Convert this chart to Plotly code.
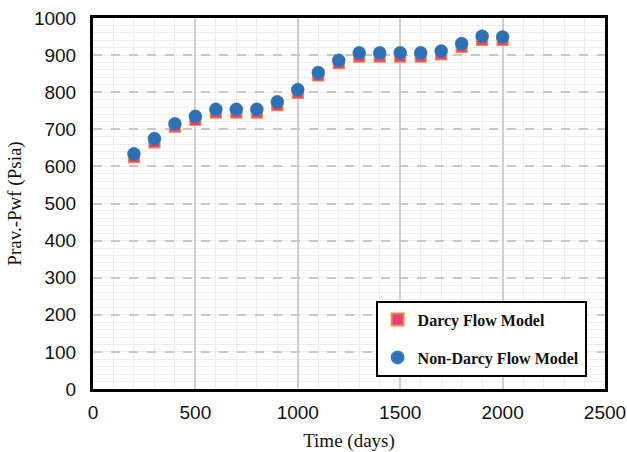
import plotly.graph_objects as go

time_days = [200, 300, 400, 500, 600, 700, 800, 900, 1000, 1100, 1200, 1300, 1400, 1500, 1600, 1700, 1800, 1900, 2000]
darcy = [625, 665, 707, 725, 745, 745, 745, 765, 798, 845, 878, 896, 896, 896, 896, 902, 922, 941, 941]
non_darcy = [634, 675, 715, 735, 754, 754, 754, 774, 807, 853, 886, 906, 906, 906, 906, 911, 931, 951, 949]

x_ticks = [0, 500, 1000, 1500, 2000, 2500]
y_ticks = [0, 100, 200, 300, 400, 500, 600, 700, 800, 900, 1000]

fig = go.Figure()
fig.add_trace(go.Scatter(
    x=time_days, y=darcy, mode="markers", name="Darcy Flow Model",
    legendgroup="a",
    marker=dict(symbol="square", size=11, color="#e3407f",
                line=dict(color="#f08a3c", width=1.2)),
))
fig.add_trace(go.Scatter(
    x=time_days, y=non_darcy, mode="markers", name="Non-Darcy Flow Model",
    legendgroup="b",
    marker=dict(symbol="circle", size=13, color="#2f6fb3",
                line=dict(color="#3a7cc0", width=0.5)),
))

tick_font = dict(family="Liberation Sans, Arial, sans-serif", size=19, color="#111")
title_font = dict(family="Liberation Serif, Times New Roman, serif", size=19, color="#111")

fig.update_layout(
    width=627, height=452,
    margin=dict(l=93, r=22, t=18, b=63),
    paper_bgcolor="white", plot_bgcolor="white",
    showlegend=True,
    legend=dict(
        x=0.552, y=0.238, xanchor="left", yanchor="top",
        bgcolor="white", bordercolor="black", borderwidth=2,
        font=dict(family="Liberation Serif, Times New Roman, serif", size=16, color="#111", weight="bold"),
        tracegroupgap=14, itemsizing="constant",
    ),
    xaxis=dict(
        range=[0, 2500], tickvals=x_ticks, ticks="", tickfont=tick_font,
        ticklabelstandoff=4, automargin=False,
        title=dict(text="Time (days)", font=title_font, standoff=12),
        showline=True, linecolor="black", linewidth=3, mirror=True,
        showgrid=True, gridcolor="#cfcfcf", gridwidth=2,
        minor=dict(dtick=100, showgrid=True, gridcolor="#ececec", gridwidth=1, griddash="solid"),
        zeroline=False,
    ),
    yaxis=dict(
        range=[0, 1000], tickvals=y_ticks, ticks="", tickfont=tick_font,
        ticklabelstandoff=10, automargin=False,
        title=dict(text="Prav.-Pwf (Psia)", font=title_font, standoff=8),
        showline=True, linecolor="black", linewidth=3, mirror=True,
        showgrid=True, gridcolor="#c8c8c8", gridwidth=2, griddash="dash",
        minor=dict(dtick=20, showgrid=True, gridcolor="#ededed", gridwidth=1, griddash="solid"),
        zeroline=False,
    ),
)

fig.write_html("out.html")
